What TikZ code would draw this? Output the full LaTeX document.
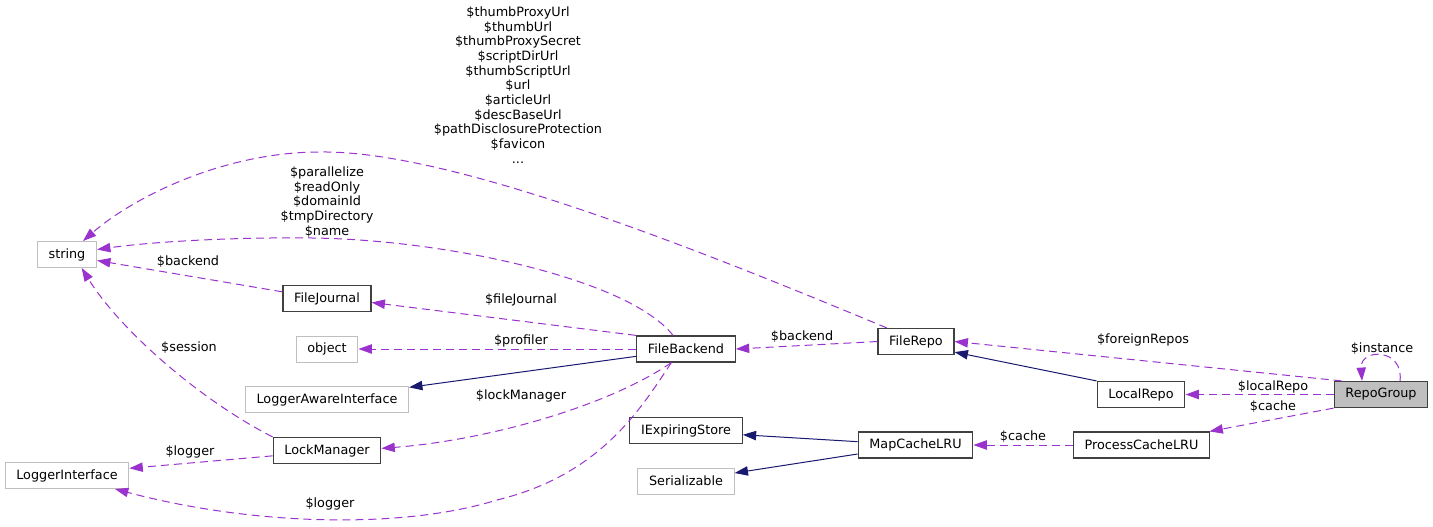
\documentclass[tikz,border=0pt]{standalone}
\usepackage{fontspec}
\setmainfont{DejaVu Sans}
\usetikzlibrary{arrows.meta}
\definecolor{usecol}{HTML}{9A32CD}
\definecolor{inhcol}{HTML}{191970}
\definecolor{extcol}{HTML}{BFBFBF}
\begin{document}
\begin{tikzpicture}[x=0.75pt,y=-0.75pt,font=\fontsize{9.6}{11}\selectfont,
  cls/.style={draw=black!75,fill=white,line width=0.9pt,inner xsep=8.4pt,inner ysep=0pt,minimum height=19.5pt},
  extcls/.style={cls,draw=extcol,line width=0.75pt},
  curcls/.style={cls,fill=extcol},
  usage/.style={draw=usecol,line width=0.75pt,dash pattern=on 6pt off 3.75pt,-{Triangle[length=10pt,width=7pt]}},
  inherit/.style={draw=inhcol,line width=0.75pt,-{Triangle[length=10pt,width=7pt]}},
  lbl/.style={inner sep=0pt,align=center}]
\useasboundingbox (0,0) rectangle (1433,526);
\node[curcls] (RepoGroup) at (1381,394.5) {RepoGroup};
\node[cls] (LocalRepo) at (1141,394.5) {LocalRepo};
\node[cls] (ProcessCacheLRU) at (1141.5,445) {ProcessCacheLRU};
\node[cls] (FileRepo) at (916,341.5) {FileRepo};
\node[cls] (MapCacheLRU) at (915.5,445) {MapCacheLRU};
\node[cls] (FileBackend) at (686,349) {FileBackend};
\node[cls] (IExpiringStore) at (686,430.5) {IExpiringStore};
\node[extcls] (Serializable) at (686,481) {Serializable};
\node[cls] (FileJournal) at (327,298.5) {FileJournal};
\node[extcls] (object) at (327,349) {object};
\node[extcls] (LoggerAwareInterface) at (327,399.5) {LoggerAwareInterface};
\node[cls] (LockManager) at (327,450.5) {LockManager};
\node[extcls] (string) at (67,254.5) {string};
\node[extcls] (LoggerInterface) at (67,475.5) {LoggerInterface};

\draw[usage] ([xshift=14.25pt]RepoGroup.north) .. controls +(4,-33) and +(-2,-33) .. ([xshift=-14.25pt]RepoGroup.north)
  node[lbl] at (1382,349) {\$instance};
\draw[usage] ([xshift=6pt]RepoGroup.north west) -- (FileRepo.east)
  node[lbl] at (1143,340) {\$foreignRepos};
\draw[usage] (RepoGroup.west) -- (LocalRepo.east)
  node[lbl] at (1273,387) {\$localRepo};
\draw[usage] (RepoGroup.south west) -- ([xshift=-0.5pt]ProcessCacheLRU.north east)
  node[lbl] at (1273,407) {\$cache};
\draw[inherit] (LocalRepo.north west) -- ([yshift=2.25pt]FileRepo.south east);
\draw[usage] (ProcessCacheLRU.west) -- (MapCacheLRU.east)
  node[lbl] at (1023,437) {\$cache};
\draw[inherit] ([yshift=2.5pt]MapCacheLRU.west) -- ([yshift=-3.2pt]IExpiringStore.east);
\draw[inherit] ([yshift=-6.75pt]MapCacheLRU.west) -- ([yshift=6pt]Serializable.east);
\draw[usage] (FileRepo.west) -- (FileBackend.east)
  node[lbl] at (802,337) {\$backend};
\draw[usage] ([xshift=7pt]FileRepo.north west) .. controls (700,250) and (450,150) .. (320,152)
  .. controls (220,152) and (130,200) .. ([xshift=12pt]string.north)
  node[lbl] at (518,85) {\$thumbProxyUrl\\\$thumbUrl\\\$thumbProxySecret\\\$scriptDirUrl\\\$thumbScriptUrl\\\$url\\\$articleUrl\\\$descBaseUrl\\\$pathDisclosureProtection\\\$favicon\\...};
\draw[usage] ([xshift=-9.75pt]FileBackend.north) .. controls (630,280) and (450,240) .. (313,238)
  .. controls (230,237) and (150,242) .. ([yshift=3.75pt]string.east)
  node[lbl] at (327,202) {\$parallelize\\\$readOnly\\\$domainId\\\$tmpDirectory\\\$name};
\draw[usage] (FileBackend.north west) -- ([yshift=-3pt]FileJournal.east)
  node[lbl] at (521,300) {\$fileJournal};
\draw[usage] (FileBackend.west) -- (object.east)
  node[lbl] at (521,341) {\$profiler};
\draw[inherit] ([yshift=-5.5pt]FileBackend.west) -- ([yshift=-1pt]LoggerAwareInterface.north east);
\draw[usage] ([xshift=-11pt]FileBackend.south) .. controls (610,405) and (490,440) .. ([yshift=1.6pt]LockManager.east)
  node[lbl] at (521,396) {\$lockManager};
\draw[usage] ([xshift=-11pt]FileBackend.south) .. controls (640,410) and (600,475) .. (497,500)
  .. controls (400,530) and (250,525) .. ([xshift=36pt]LoggerInterface.south)
  node[lbl] at (330,504) {\$logger};
\draw[usage] ([yshift=5pt]FileJournal.west) -- ([yshift=-4.5pt]string.east)
  node[lbl] at (188,262) {\$backend};
\draw[usage] (LockManager.north west) .. controls (200,400) and (120,330) .. ([xshift=11pt]string.south)
  node[lbl] at (189,348) {\$session};
\draw[usage] ([yshift=-4pt]LockManager.west) -- ([yshift=5.4pt]LoggerInterface.east)
  node[lbl] at (190,452) {\$logger};
\end{tikzpicture}
\end{document}
